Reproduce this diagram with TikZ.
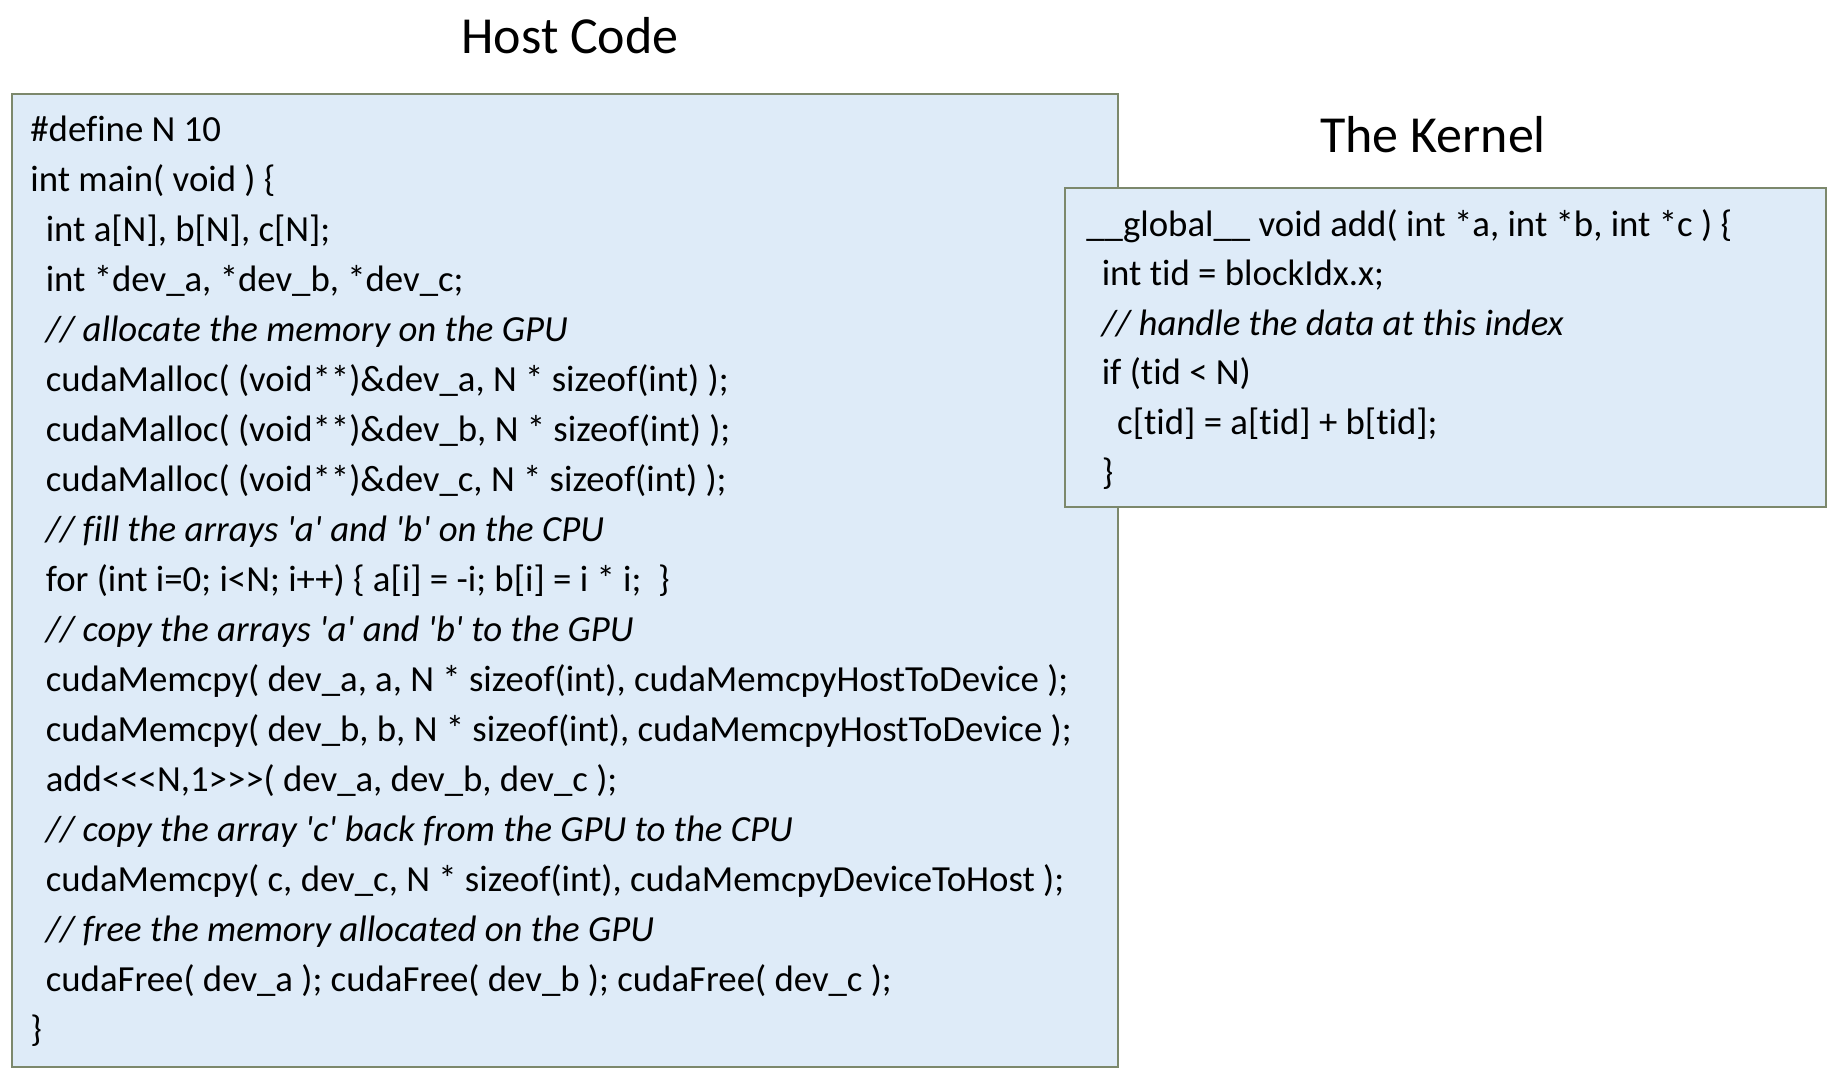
\documentclass[tikz,border=0pt]{standalone}
\usepackage{fontspec}
\setmainfont{Carlito}[Ligatures=NoCommon]
\definecolor{boxfill}{RGB}{222,235,248}
\definecolor{boxline}{RGB}{124,136,108}
\newcommand{\ind}{\hspace*{7.7pt}}

\begin{document}
\begin{tikzpicture}[x=0.5pt,y=0.5pt,yscale=-1,xscale=1,
    box/.style={draw=boxline, fill=boxfill, line width=1pt},
    title/.style={anchor=base, inner sep=0pt, font=\fontsize{26}{30}\selectfont},
    code/.style={anchor=base west, inner sep=0pt, font=\fontsize{18.4}{22}\selectfont},
    note/.style={code, font=\fontsize{18.4}{22}\selectfont\itshape}]
    \useasboundingbox (0,0) rectangle (1847,1078);

    % Text Node
    \node [title] (hosttitle) at (570,53) {Host Code};
    % Text Node
    \node [title] (kerneltitle) at (1433,152) {The Kernel};

    %Shape: Rectangle
    \draw [box] (12,94) rectangle (1118,1067);

    % Text Node
    \node [code] (h1) at (30,141) {\#define N 10};
    % Text Node
    \node [code] (h2) at (30,191) {int main( void ) \{};
    % Text Node
    \node [code] (h3) at (30,241) {\ind int a[N], b[N], c[N];};
    % Text Node
    \node [code] (h4) at (30,291) {\ind int *dev\_a, *dev\_b, *dev\_c;};
    % Text Node
    \node [note] (h5) at (30,341) {\ind // allocate the memory on the GPU};
    % Text Node
    \node [code] (h6) at (30,391) {\ind cudaMalloc( (void**)\&dev\_a, N * sizeof(int) );};
    % Text Node
    \node [code] (h7) at (30,441) {\ind cudaMalloc( (void**)\&dev\_b, N * sizeof(int) );};
    % Text Node
    \node [code] (h8) at (30,491) {\ind cudaMalloc( (void**)\&dev\_c, N * sizeof(int) );};
    % Text Node
    \node [note] (h9) at (30,541) {\ind // fill the arrays \textquotesingle a\textquotesingle\ and \textquotesingle b\textquotesingle\ on the CPU};
    % Text Node
    \node [code] (h10) at (30,591) {\ind for (int i=0; i<N; i++) \{ a[i] = -i; b[i] = i * i; \ \}};
    % Text Node
    \node [note] (h11) at (30,641) {\ind // copy the arrays \textquotesingle a\textquotesingle\ and \textquotesingle b\textquotesingle\ to the GPU};
    % Text Node
    \node [code] (h12) at (30,691) {\ind cudaMemcpy( dev\_a, a, N * sizeof(int), cudaMemcpyHostToDevice );};
    % Text Node
    \node [code] (h13) at (30,741) {\ind cudaMemcpy( dev\_b, b, N * sizeof(int), cudaMemcpyHostToDevice );};
    % Text Node
    \node [code] (h14) at (30,791) {\ind add<{}<{}<N,1>{}>{}>( dev\_a, dev\_b, dev\_c );};
    % Text Node
    \node [note] (h15) at (30,841) {\ind // copy the array \textquotesingle c\textquotesingle\ back from the GPU to the CPU};
    % Text Node
    \node [code] (h16) at (30,891) {\ind cudaMemcpy( c, dev\_c, N * sizeof(int), cudaMemcpyDeviceToHost );};
    % Text Node
    \node [note] (h17) at (30,941) {\ind // free the memory allocated on the GPU};
    % Text Node
    \node [code] (h18) at (30,991) {\ind cudaFree( dev\_a ); cudaFree( dev\_b ); cudaFree( dev\_c );};
    % Text Node
    \node [code] (h19) at (30,1041) {\}};

    %Shape: Rectangle
    \draw [box] (1065,188) rectangle (1826,507);

    % Text Node
    \node [code] (k1) at (1086,236) {\_\_global\_\_ void add( int *a, int *b, int *c ) \{};
    % Text Node
    \node [code] (k2) at (1086,285.6) {\ind int tid = blockIdx.x;};
    % Text Node
    \node [note] (k3) at (1086,335.2) {\ind // handle the data at this index};
    % Text Node
    \node [code] (k4) at (1086,384.8) {\ind if (tid < N)};
    % Text Node
    \node [code] (k5) at (1086,434.4) {\ind\ind c[tid] = a[tid] + b[tid];};
    % Text Node
    \node [code] (k6) at (1086,484) {\ind \}};

\end{tikzpicture}
\end{document}
